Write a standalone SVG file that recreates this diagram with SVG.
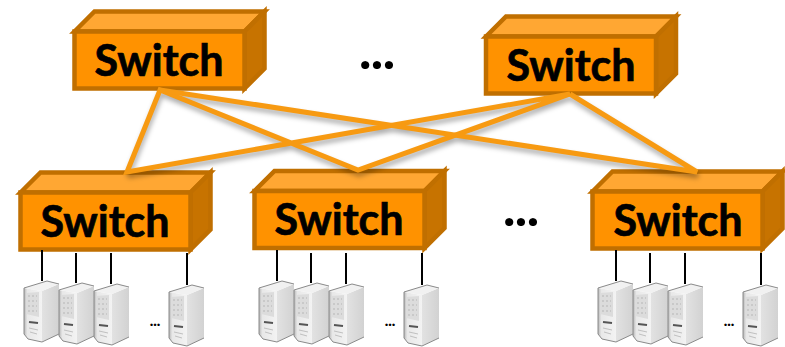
<svg xmlns="http://www.w3.org/2000/svg" xmlns:xlink="http://www.w3.org/1999/xlink" width="785" height="347" viewBox="0 0 785 347">
<style>
.front{fill:#ff9200;stroke:#c06f00;stroke-width:4.500}
.topf{fill:#ffa733;stroke:#c06f00;stroke-width:4.500}
.side{fill:#c77300;stroke:#c06f00;stroke-width:4.500}
.lbl{font-family:Lato,"Noto Sans",sans-serif;font-weight:700;font-size:43px;fill:#000;stroke:#000;stroke-width:.7px;text-anchor:middle}
.dots{font-family:Lato,sans-serif;font-weight:900;fill:#000;text-anchor:middle}
.big{font-size:50px}
.up{fill:none;stroke:#f79a12;stroke-width:5;stroke-linejoin:miter}
.shadow{fill:none;stroke:#000;stroke-opacity:.32;stroke-width:5}
.down{stroke:#000;stroke-width:2}
</style>
<defs>
<filter id="blur" x="-10%" y="-30%" width="120%" height="160%"><feGaussianBlur stdDeviation="2.500"/></filter>
<linearGradient id="sv" x1="0" x2="1" y1="0" y2="0"><stop offset="0" stop-color="#e2e2e2"/><stop offset="1" stop-color="#d2d2d2"/></linearGradient>
<linearGradient id="sf" x1="0" x2="1" y1="0" y2="0"><stop offset="0" stop-color="#b5b5b5"/><stop offset=".18" stop-color="#e8e8e8"/><stop offset="1" stop-color="#f3f3f3"/></linearGradient>
<g id="box">
<path class="topf" d="M0 20L20 0H190L170 20Z"/>
<path class="side" d="M170 20L190 0V57L170 77Z"/>
<rect class="front" x="0" y="20" width="170" height="57"/>
</g>
<g id="srv">
<path fill="url(#sf)" d="M1 7L19 10V61L5 58L1 53Z"/>
<path fill="url(#sv)" d="M19 10L36 3V53L19 61Z"/>
<path fill="#f1f1f1" d="M1 7L24 0L36 3L19 10Z"/>
<path fill="none" stroke="#8a8a8a" stroke-width="1" d="M1 7L24 0L36 3M1 7L1 53L5 58L19 61L36 53"/>
<path fill="#dcdcdc" d="M3 12L16 11V36L3 33Z"/>
<path fill="none" stroke="#c2c2c2" stroke-width="1.500" stroke-dasharray="2 2" d="M5 15L14 15M5 20L14 20M5 25L14 25M5 30L14 30"/>
<path stroke="#555" stroke-width="2" d="M6 41L15 42"/>
<path stroke="#c0c0c0" stroke-width="1" d="M6 47L15 49M7 51L14 53"/>
</g>
<g id="rack">
<path class="down" d="M42 250V281M76 253V283M111 253V284M187 253V285"/>
<use xlink:href="#srv" href="#srv" x="23" y="281"/>
<use xlink:href="#srv" href="#srv" x="58" y="283"/>
<use xlink:href="#srv" href="#srv" x="93" y="284"/>
<use xlink:href="#srv" href="#srv" x="168" y="285"/>
<text class="dots" x="155" y="326" font-size="15">...</text>
</g>
</defs>
<g id="switch-top-1"><use xlink:href="#box" href="#box" x="74.500" y="11.500"/><text class="lbl" x="159" y="76">Switch</text></g>
<g id="switch-top-2"><use xlink:href="#box" href="#box" x="486" y="16.500"/><text class="lbl" x="571" y="81">Switch</text></g>
<g id="switch-bottom-1"><use xlink:href="#box" href="#box" x="20.500" y="172.500"/><text class="lbl" x="105" y="237">Switch</text></g>
<g id="switch-bottom-2"><use xlink:href="#box" href="#box" x="254.500" y="171"/><text class="lbl" x="339" y="235">Switch</text></g>
<g id="switch-bottom-3"><use xlink:href="#box" href="#box" x="592.500" y="171.500"/><text class="lbl" x="678" y="236">Switch</text></g>
<g id="connectors">
<path class="shadow" filter="url(#blur)" transform="translate(1 4)" d="M127 172L160 90L358 170L570 94L127 172M160 90L697 172L570 94"/>
<path class="up" d="M127 172L160 90L358 170L570 94Z"/>
<path class="up" d="M160 90L697 172L570 94"/>
</g>
<g id="servers-1"><use xlink:href="#rack" href="#rack"/></g>
<g id="servers-2"><use xlink:href="#rack" href="#rack" x="235"/></g>
<g id="servers-3"><use xlink:href="#rack" href="#rack" x="574"/></g>
<text class="dots big" x="377" y="69">...</text>
<text class="dots big" x="521" y="226">...</text>
</svg>
